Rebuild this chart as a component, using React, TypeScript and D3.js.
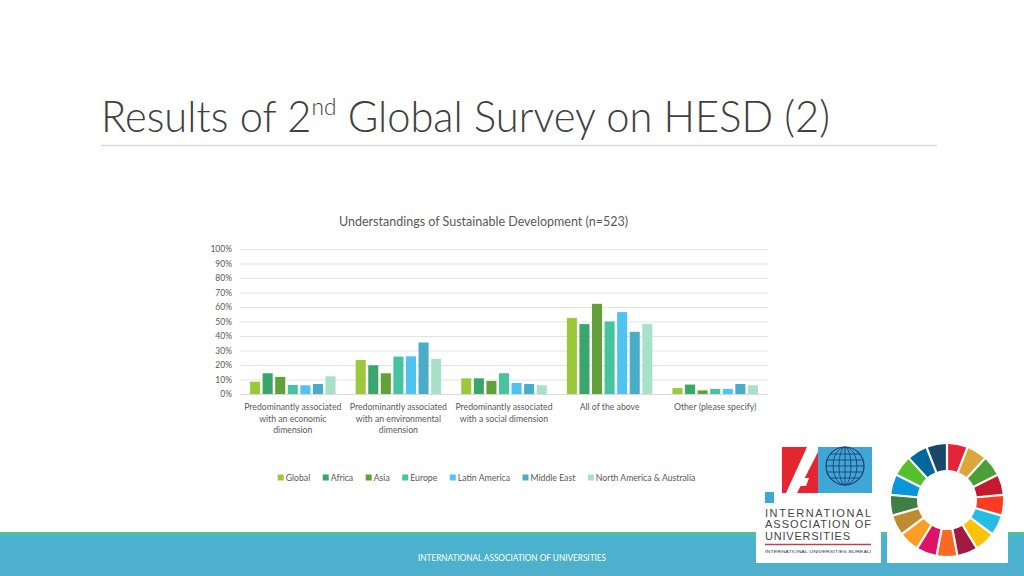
import React, { useEffect, useRef } from "react";
import * as d3 from "d3";

const categories = [
  "Predominantly associated with an economic dimension",
  "Predominantly associated with an environmental dimension",
  "Predominantly associated with a social dimension",
  "All of the above",
  "Other (please specify)",
];
const categoryLines = [
  ["Predominantly associated", "with an economic", "dimension"],
  ["Predominantly associated", "with an environmental", "dimension"],
  ["Predominantly associated", "with a social dimension"],
  ["All of the above"],
  ["Other (please specify)"],
];
const seriesNames = [
  "Global",
  "Africa",
  "Asia",
  "Europe",
  "Latin America",
  "Middle East",
  "North America & Australia",
];
const globalValues = [8.5, 23.5, 10.8, 52.5, 4.1];
const africaValues = [14.3, 19.8, 10.8, 48.2, 6.5];
const asiaValues = [11.8, 14.3, 9.0, 62.2, 2.5];
const europeValues = [6.2, 25.8, 14.3, 50.0, 3.5];
const latinAmericaValues = [6.0, 26.0, 7.6, 56.5, 3.5];
const middleEastValues = [6.9, 35.5, 6.9, 42.9, 6.9];
const northAmericaValues = [12.2, 24.2, 6.0, 48.4, 6.0];
const seriesColors = [
  "#9CC83B",
  "#3AA66B",
  "#62A03A",
  "#47C3A0",
  "#50C3F2",
  "#4AADC8",
  "#A9E0C8",
];
const yTicks = [0, 10, 20, 30, 40, 50, 60, 70, 80, 90, 100];
const sdgColors = [
  "#E5243B", "#DDA63A", "#4C9F38", "#C5192D", "#FF3A21", "#26BDE2",
  "#FCC30B", "#A21942", "#FD6925", "#DD1367", "#FD9D24", "#BF8B2E",
  "#3F7E44", "#0A97D9", "#56C02B", "#00689D", "#19486A",
];

const FONT = "Lato, 'Open Sans', sans-serif";

export default function App() {
  const ref = useRef<SVGSVGElement>(null);

  useEffect(() => {
    const svg = d3.select(ref.current);
    svg.selectAll("*").remove();

    const allValues = [
      globalValues, africaValues, asiaValues, europeValues,
      latinAmericaValues, middleEastValues, northAmericaValues,
    ];
    const data = categories.map((c, i) => ({
      cat: c,
      vals: seriesNames.map((s, j) => ({ name: s, v: allValues[j][i], color: seriesColors[j] })),
    }));

    // background
    svg.append("rect").attr("width", 1024).attr("height", 576).attr("fill", "#ffffff");

    // title (single text element with superscript tspan)
    const title = svg.append("text").attr("x", 101).attr("y", 131.5)
      .attr("fill", "#404040").attr("font-family", FONT).attr("font-weight", 300)
      .attr("font-size", 44).attr("textLength", 729).attr("lengthAdjust", "spacingAndGlyphs");
    title.append("tspan").text("Results of 2");
    title.append("tspan").attr("font-size", 24).attr("dy", -16.5).text("nd");
    title.append("tspan").attr("dy", 16.5).text(" Global Survey on HESD (2)");
    svg.append("line").attr("x1", 101).attr("x2", 937).attr("y1", 145.5).attr("y2", 145.5)
      .attr("stroke", "#d9d9d9").attr("stroke-width", 1.5);

    // chart title
    svg.append("text").attr("x", 483.5).attr("y", 225.5).attr("text-anchor", "middle")
      .attr("font-family", FONT).attr("font-size", 12.5).attr("fill", "#595959")
      .text("Understandings of Sustainable Development (n=523)");

    // scales
    const x0 = d3.scaleBand<string>().domain(categories).range([240, 768]).padding(0);
    const x1 = d3.scaleBand<string>().domain(seriesNames).range([0, x0.bandwidth()])
      .paddingInner(0.2).paddingOuter(0.8);
    const y = d3.scaleLinear().domain([0, 100]).range([394, 249]);

    // gridlines
    const grid = svg.append("g");
    grid.selectAll("line").data(yTicks).join("line")
      .attr("x1", 240).attr("x2", 768)
      .attr("y1", (d) => y(d) + 0.5).attr("y2", (d) => y(d) + 0.5)
      .attr("stroke", "#e3e3e3").attr("stroke-width", 1);

    // y labels
    svg.append("g").selectAll("text").data(yTicks).join("text")
      .attr("x", 232).attr("y", (d) => y(d) + 3)
      .attr("text-anchor", "end").attr("font-family", FONT).attr("font-size", 8.5)
      .attr("fill", "#595959").text((d) => `${d}%`);

    // bars
    const groups = svg.append("g").selectAll("g").data(data).join("g")
      .attr("transform", (d) => `translate(${x0(d.cat)},0)`);
    groups.selectAll("rect").data((d) => d.vals).join("rect")
      .attr("x", (d) => x1(d.name)!)
      .attr("width", x1.bandwidth())
      .attr("y", (d) => y(d.v))
      .attr("height", (d) => y(0) - y(d.v))
      .attr("fill", (d) => d.color);

    // baseline
    svg.append("line").attr("x1", 240).attr("x2", 768).attr("y1", 394.5).attr("y2", 394.5)
      .attr("stroke", "#d9d9d9");

    // category labels
    const catG = svg.append("g").attr("font-family", FONT).attr("font-size", 8.7).attr("fill", "#595959");
    categoryLines.forEach((lines, i) => {
      const cx = x0(categories[i])! + x0.bandwidth() / 2;
      lines.forEach((ln, k) => {
        catG.append("text").attr("x", cx).attr("y", 410 + k * 11.6)
          .attr("text-anchor", "middle").text(ln);
      });
    });

    // legend
    const legG = svg.append("g").attr("font-family", FONT).attr("font-size", 8.7).attr("fill", "#595959");
    const items = seriesNames.map((name, i) => {
      const g = legG.append("g");
      g.append("rect").attr("x", 0).attr("y", -3).attr("width", 6).attr("height", 6).attr("fill", seriesColors[i]);
      const t = g.append("text").attr("x", 8).attr("y", 3).text(name);
      const w = (t.node() as SVGTextElement).getComputedTextLength();
      return { g, w: 8 + w };
    });
    const gap = 12.5;
    const total = d3.sum(items, (d) => d.w) + gap * (items.length - 1);
    let lx = 486.5 - total / 2;
    items.forEach((it) => {
      it.g.attr("transform", `translate(${lx},477.5)`);
      lx += it.w + gap;
    });

    // footer
    svg.append("rect").attr("x", 0).attr("y", 532).attr("width", 1024).attr("height", 4).attr("fill", "#4EC29F");
    const grad = svg.append("defs").append("linearGradient").attr("id", "footgrad")
      .attr("x1", 0).attr("x2", 0).attr("y1", 0).attr("y2", 1);
    grad.append("stop").attr("offset", "0%").attr("stop-color", "#4AB3CF");
    grad.append("stop").attr("offset", "100%").attr("stop-color", "#4FAFCC");
    svg.append("rect").attr("x", 0).attr("y", 536).attr("width", 1024).attr("height", 40).attr("fill", "url(#footgrad)");
    svg.append("text").attr("x", 512).attr("y", 560.5).attr("text-anchor", "middle")
      .attr("font-family", FONT).attr("font-size", 8.5).attr("fill", "#ffffff")
      .attr("textLength", 188).attr("lengthAdjust", "spacingAndGlyphs")
      .text("INTERNATIONAL ASSOCIATION OF UNIVERSITIES");

    // IAU logo
    const iau = svg.append("g");
    iau.append("rect").attr("x", 756).attr("y", 443).attr("width", 125).attr("height", 120).attr("fill", "#ffffff");
    iau.append("rect").attr("x", 782).attr("y", 447).attr("width", 36).attr("height", 46).attr("fill", "#E3262F");
    iau.append("polygon").attr("points", "807,447 818,447 818,452 797,493 786,493").attr("fill", "#ffffff");
    iau.append("polygon").attr("points", "803,478 809,478 806,486 800,486").attr("fill", "#ffffff");
    iau.append("rect").attr("x", 818).attr("y", 447).attr("width", 54).attr("height", 46).attr("fill", "#3FA7D6");
    iau.append("circle").attr("cx", 845).attr("cy", 466).attr("r", 19).attr("fill", "#3FA7D6")
      .attr("stroke", "#1E3E7A").attr("stroke-width", 1.2);
    [-12, -6, 0, 6, 12].forEach((dy) => {
      const hw = Math.sqrt(19 * 19 - dy * dy);
      iau.append("line").attr("x1", 845 - hw).attr("x2", 845 + hw).attr("y1", 466 + dy).attr("y2", 466 + dy)
        .attr("stroke", "#1E3E7A").attr("stroke-width", 0.9);
    });
    [6, 12].forEach((rx) => {
      iau.append("ellipse").attr("cx", 845).attr("cy", 466).attr("rx", rx).attr("ry", 19)
        .attr("fill", "none").attr("stroke", "#1E3E7A").attr("stroke-width", 0.9);
    });
    iau.append("line").attr("x1", 845).attr("x2", 845).attr("y1", 447).attr("y2", 485)
      .attr("stroke", "#1E3E7A").attr("stroke-width", 0.9);
    iau.append("rect").attr("x", 765).attr("y", 492).attr("width", 9).attr("height", 11).attr("fill", "#3FA7D6");
    const lt = iau.append("g").attr("font-family", "'Liberation Sans', Arial, sans-serif").attr("fill", "#454545").attr("font-size", 11);
    lt.append("text").attr("x", 765).attr("y", 516.5).attr("textLength", 106).attr("lengthAdjust", "spacing").text("INTERNATIONAL");
    lt.append("text").attr("x", 765).attr("y", 528).attr("textLength", 106).attr("lengthAdjust", "spacing").text("ASSOCIATION OF");
    lt.append("text").attr("x", 765).attr("y", 539.5).attr("textLength", 85).attr("lengthAdjust", "spacing").text("UNIVERSITIES");
    iau.append("line").attr("x1", 765).attr("x2", 871).attr("y1", 544.5).attr("y2", 544.5).attr("stroke", "#B5474B").attr("stroke-width", 1.3);
    iau.append("text").attr("x", 765).attr("y", 553).attr("font-family", "'Liberation Sans', sans-serif").attr("font-size", 4.2)
      .attr("fill", "#3a3a3a").attr("textLength", 106).attr("lengthAdjust", "spacingAndGlyphs").text("INTERNATIONAL UNIVERSITIES BUREAU");

    // SDG wheel
    const sdg = svg.append("g");
    sdg.append("rect").attr("x", 887).attr("y", 443).attr("width", 121).attr("height", 120).attr("fill", "#ffffff");
    const pie = d3.pie<string>().value(() => 1).sort(null);
    const arc = d3.arc<d3.PieArcDatum<string>>().innerRadius(30).outerRadius(56).padAngle(0.035);
    sdg.append("g").attr("transform", "translate(947,500)")
      .selectAll("path").data(pie(sdgColors)).join("path")
      .attr("d", arc).attr("fill", (d) => d.data);
  }, []);

  return (
    <svg
      ref={ref}
      width={1024}
      height={576}
      style={{ position: "absolute", left: 0, top: 0, display: "block" }}
    />
  );
}
